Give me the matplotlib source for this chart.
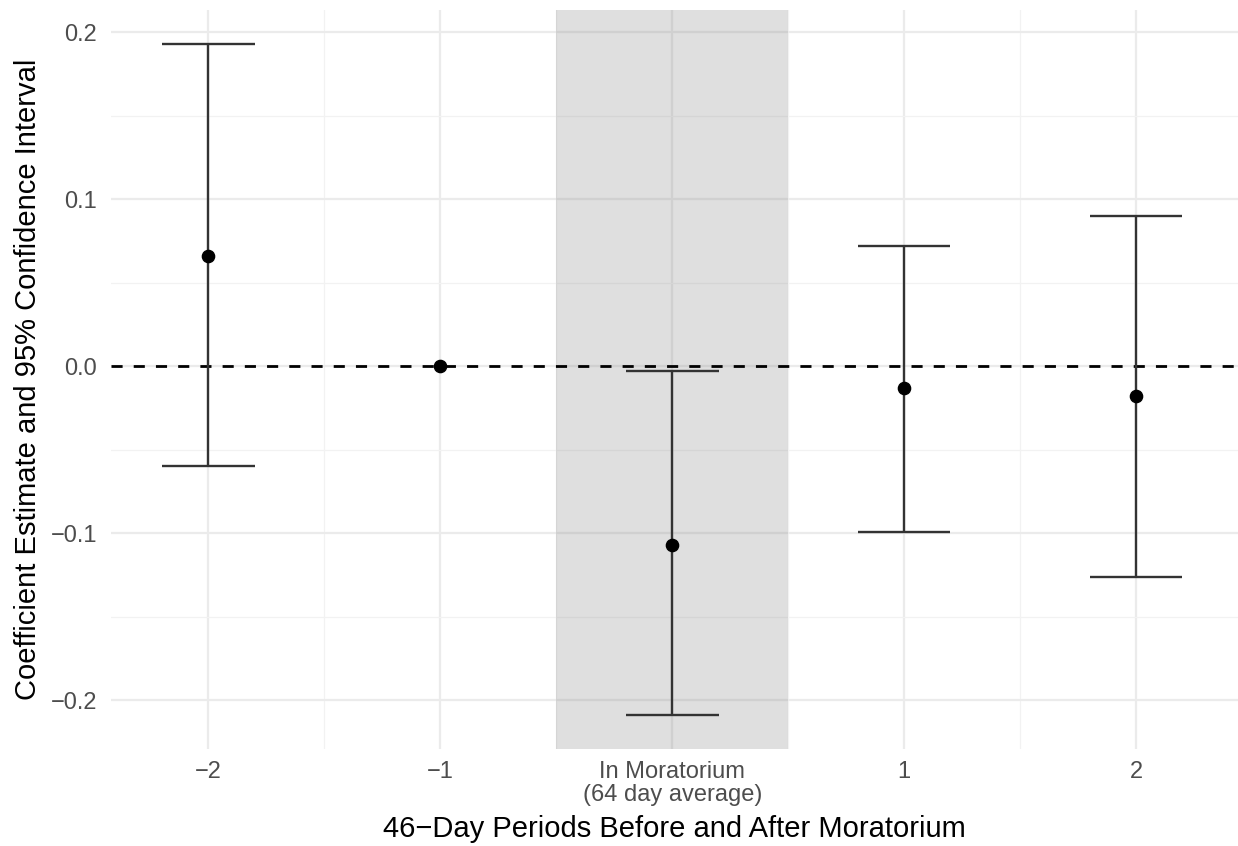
import matplotlib
matplotlib.use('Agg')
import matplotlib.pyplot as plt
from matplotlib.ticker import FixedLocator

plt.rcParams['font.family'] = ['Liberation Sans', 'DejaVu Sans']

# data
periods = ['\u22122', '\u22121', 'In Moratorium\n(64 day average)', '1', '2']
estimate = [0.066, 0.0, -0.107, -0.013, -0.018]
ci_low = [-0.060, 0.0, -0.209, -0.099, -0.126]
ci_high = [0.193, 0.0, -0.003, 0.072, 0.090]
has_ci = [True, False, True, True, True]

y_ticks = [-0.2, -0.1, 0.0, 0.1, 0.2]
y_labels = ['\u22120.2', '\u22120.1', '0.0', '0.1', '0.2']

xpos = list(range(1, len(periods) + 1))

fig = plt.figure(figsize=(12.38, 8.46), dpi=100)
ax = fig.add_axes([0.0897, 0.1147, 0.9103, 0.8733])

# shaded moratorium period (translucent, grid shows through)
ax.axvspan(2.5, 3.5, facecolor='#808080', alpha=0.25, lw=0, zorder=1)

# grid
for s in ax.spines.values():
    s.set_visible(False)
ax.set_axisbelow(True)
ax.xaxis.set_major_locator(FixedLocator(xpos))
ax.xaxis.set_minor_locator(FixedLocator([1.5, 2.5, 3.5, 4.5]))
ax.yaxis.set_major_locator(FixedLocator(y_ticks))
ax.yaxis.set_minor_locator(FixedLocator([-0.15, -0.05, 0.05, 0.15]))
ax.grid(which='major', color='#EBEBEB', lw=1.6, zorder=0)
ax.grid(which='minor', color='#F2F2F2', lw=0.9, zorder=0)

ax.axhline(0, color='black', lw=2.0, dashes=(4, 4), zorder=2)

for x, lo, hi, e, c in zip(xpos, ci_low, ci_high, estimate, has_ci):
    if c:
        ax.vlines(x, lo, hi, color='#333333', lw=1.7, zorder=3)
        ax.hlines([lo, hi], x - 0.2, x + 0.2, color='#333333', lw=1.7, zorder=3)
ax.plot(xpos, estimate, 'o', color='black', markersize=8.8, zorder=4)

ax.set_xlim(0.58, 5.44)
ax.set_ylim(-0.2291, 0.2131)

ax.set_xticklabels(periods)
ax.set_yticklabels(y_labels)
ax.tick_params(which='both', length=0, labelsize=17, labelcolor='#4D4D4D')
ax.tick_params(axis='x', pad=9)
ax.tick_params(axis='y', pad=10)
for lab in ax.get_xticklabels():
    lab.set_linespacing(1.05)

ax.set_xlabel('46\u2212Day Periods Before and After Moratorium', fontsize=21, labelpad=6)
ax.set_ylabel('Coefficient Estimate and 95% Confidence Interval', fontsize=21, labelpad=6)

plt.savefig('out.png', dpi=100)
